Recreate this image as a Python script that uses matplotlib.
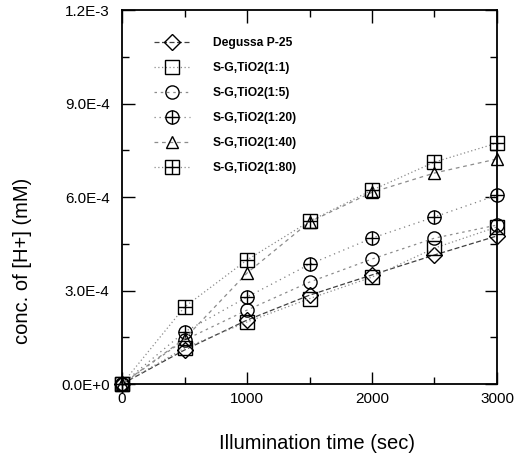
import numpy as np
import matplotlib
matplotlib.use("Agg")
from matplotlib import pyplot as plt
from matplotlib.ticker import MultipleLocator

plt.rcParams['font.family'] = ['Liberation Sans', 'DejaVu Sans']

# Data (conc. in mM)
time_s = [0, 500, 1000, 1500, 2000, 2500, 3000]
degussa = [0, 1.09e-4, 2.05e-4, 2.85e-4, 3.50e-4, 4.14e-4, 4.75e-4]
sg_1_1 = [0, 1.15e-4, 1.99e-4, 2.74e-4, 3.43e-4, 4.36e-4, 5.04e-4]
sg_1_5 = [0, 1.41e-4, 2.37e-4, 3.27e-4, 4.01e-4, 4.68e-4, 5.10e-4]
sg_1_20 = [0, 1.67e-4, 2.79e-4, 3.84e-4, 4.68e-4, 5.36e-4, 6.06e-4]
sg_1_40 = [0, 1.45e-4, 3.56e-4, 5.20e-4, 6.15e-4, 6.77e-4, 7.22e-4]
sg_1_80 = [0, 2.47e-4, 3.98e-4, 5.22e-4, 6.22e-4, 7.12e-4, 7.73e-4]
labels = ['Degussa P-25', 'S-G,TiO2(1:1)', 'S-G,TiO2(1:5)',
          'S-G,TiO2(1:20)', 'S-G,TiO2(1:40)', 'S-G,TiO2(1:80)']
ytick_vals = [0, 3e-4, 6e-4, 9e-4, 1.2e-3]
ytick_labels = ['0.0E+0', '3.0E-4', '6.0E-4', '9.0E-4', '1.2E-3']
xtick_vals = [0, 1000, 2000, 3000]

series = [degussa, sg_1_1, sg_1_5, sg_1_20, sg_1_40, sg_1_80]
# base marker, overlay marker (for crossed symbols), line style
styles = [('D', None, (0, (4, 2))),
          ('s', None, (0, (1, 2))),
          ('o', None, (0, (2, 3))),
          ('o', '+', (0, (1, 3))),
          ('^', None, (0, (3, 3))),
          ('s', '+', (0, (1, 2)))]
msize = [8, 9.5, 9.5, 9.5, 8.5, 9.5]
lcolor = ['0.25', '0.55', '0.55', '0.5', '0.55', '0.55']

fig = plt.figure(figsize=(5.2, 4.61), dpi=100)
ax = fig.add_axes([122/520, 1 - 384/461, 375/520, 374/461])

handles = []
for y, (m, over, ls), ms, lc in zip(series, styles, msize, lcolor):
    l1, = ax.plot(time_s, y, linestyle=ls, color=lc, lw=0.9, marker=m, ms=ms,
                  mfc='none', mec='black', mew=1.0, clip_on=False, zorder=3)
    if over is not None:
        l2, = ax.plot(time_s, y, linestyle='none', marker=over, ms=ms,
                      mec='black', mew=1.0, clip_on=False, zorder=3)
        handles.append((l1, l2))
    else:
        handles.append(l1)

ax.set_xlim(0, 3000)
ax.set_ylim(0, 1.2e-3)
ax.set_xticks(xtick_vals)
ax.set_xticklabels([str(v) for v in xtick_vals], fontsize=11)
ax.set_yticks(ytick_vals)
ax.set_yticklabels(ytick_labels, fontsize=11)
ax.xaxis.set_minor_locator(MultipleLocator(500))
ax.yaxis.set_minor_locator(MultipleLocator(1.5e-4))
ax.tick_params(which='both', direction='in', top=True, right=True, width=1.0)
ax.tick_params(which='major', length=9, pad=9)
ax.tick_params(axis='x', which='major', pad=6)
ax.tick_params(which='minor', length=5)
for s in ax.spines.values():
    s.set_linewidth(1.3)

ax.set_xlabel('Illumination time (sec)', fontsize=14.5)
ax.xaxis.set_label_coords(0.52, -0.135)
ax.set_ylabel('conc. of [H+] (mM)', fontsize=14.5)
ax.yaxis.set_label_coords(-0.24, 0.33)

leg = ax.legend(handles, labels, loc='upper left', bbox_to_anchor=(0.085, 0.927),
                frameon=False, borderpad=0, borderaxespad=0, handlelength=3,
                handletextpad=1.9, labelspacing=1.07,
                prop={'size': 8.7, 'weight': 'bold'})

plt.savefig("out.png", dpi=100)
